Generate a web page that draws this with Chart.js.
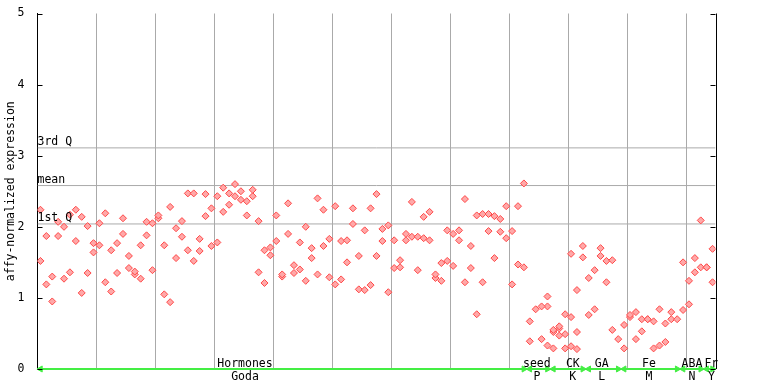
<!DOCTYPE html>
<html><head><meta charset="utf-8">
<script src="https://cdn.jsdelivr.net/npm/chart.js@4"></script>
<style>html,body{margin:0;padding:0;background:#fff}</style>
</head><body>
<canvas id="c" width="768" height="384" style="display:block;width:768px;height:384px"></canvas>
<script>
// ---- data ----
const rep1 = [2.24,1.87,1.30,2.07,2.00,2.17,2.24,2.14,2.01,1.77,2.05,2.19,1.67,1.77,2.12,1.59,1.37,1.74,2.07,2.05,
  2.16,1.74,2.28,1.98,2.08,2.47,2.47,1.83,2.46,2.26,2.43,2.55,2.47,2.60,2.50,2.36,2.52,2.08,1.67,1.71,
  2.16,1.33,2.33,1.46,1.78,2.00,1.70,2.40,2.24,1.83,2.29,1.80,1.81,2.26,1.59,1.95,2.26,2.46,1.97,2.02,
  1.81,1.53,1.90,2.35,1.86,2.14,2.21,1.33,1.49,1.95,1.90,1.95,2.39,1.73,2.16,2.18,2.18,2.15,2.11,2.29,
  1.94,2.29,2.61,0.67,0.84,0.88,1.02,0.55,0.60,0.77,1.62,1.11,1.73,1.28,1.39,1.70,1.52,1.53,0.42,0.62,
  0.76,0.80,0.70,0.70,0.67,0.84,0.64,0.80,0.70,1.50,1.24,1.56,2.09,1.43,1.69];
const rep2 = [1.52,1.19,0.95,1.87,1.27,1.36,1.80,1.07,1.35,1.64,1.74,1.22,1.09,1.35,1.90,1.42,1.33,1.27,1.88,1.39,
  2.12,1.05,0.94,1.56,1.86,1.67,1.52,1.66,2.15,1.73,1.78,2.21,2.31,2.43,2.38,2.16,2.43,1.36,1.21,1.60,
  1.80,1.30,1.90,1.35,1.40,1.24,1.56,1.33,1.73,1.29,1.19,1.26,1.50,2.04,1.12,1.11,1.18,1.59,1.80,1.08,
  1.42,1.43,1.81,1.86,1.39,1.84,1.81,1.28,1.24,1.52,1.45,1.81,1.22,1.42,0.77,1.22,1.94,1.56,1.93,1.84,
  1.19,1.47,1.43,0.39,null,0.42,0.88,0.52,0.57,0.49,0.73,0.52,1.57,0.76,0.84,1.59,1.22,0.55,null,0.29,
  0.73,0.42,0.53,0.70,0.29,0.33,0.38,0.70,null,0.83,0.91,1.36,1.43,1.43,1.22];
const rep3 = [];
rep3[86] = 0.33; rep3[87] = 0.29; rep3[88] = 0.47; rep3[89] = 0.29; rep3[90] = 0.32; rep3[91] = 0.28;

const statNames  = ['3rd Q', 'mean', '1st Q'];
const statValues = [3.11, 2.58, 2.04];

const groupTop    = ['Hormones', 'seed', 'CK', 'GA', 'Fe', 'ABA', 'Fr'];
const groupBottom = ['Goda', 'P', 'K', 'L', 'M', 'N', 'Y'];
const groupStart  = [0, 83, 87, 93, 99, 109, 113];
const groupEnd    = [82, 86, 92, 98, 108, 112, 114];
const groupLabelAt = [34.7, 84.2, 90.3, 95.2, 103.2, 110.5, 113.8];

const yTickValues = [0, 1, 2, 3, 4, 5];
const yTitle = 'affy-normalized expression';

// ---- build ----
const FONT = '11.5px "DejaVu Sans Mono", "Liberation Mono", monospace';
const RED = '#ff4848';
const GREEN = '#44ee44';
const nCols = rep1.length;

function pts(arr){ const out=[]; for(let i=0;i<nCols;i++){ if(arr[i]!=null) out.push({x:i,y:arr[i]}); } return out; }

const datasets = [];
[rep1, rep2, rep3].forEach(r => datasets.push({
  type:'scatter', data: pts(r), order: 0,
  pointStyle:'rectRot', pointRadius:3.5, borderWidth:1,
  borderColor: RED, backgroundColor:'#ffa8a8'
}));
statValues.forEach(v => datasets.push({
  type:'line', data:[{x:-0.5,y:v},{x:nCols-0.5,y:v}], order: 5,
  borderColor:'#aaaaaa', borderWidth:1, pointRadius:0
}));
groupStart.forEach((s,i) => datasets.push({
  type:'line', data:[{x:s,y:0},{x:groupEnd[i],y:0}], order: 1, clip:false,
  borderColor: GREEN, borderWidth:2, pointRadius:3.5, pointStyle:'triangle',
  pointBackgroundColor: GREEN, pointBorderColor: GREEN, pointBorderWidth:1,
  pointRotation: c => c.dataIndex === 0 ? -90 : 90
}));

const overlay = {
  id:'overlay',
  afterDatasetsDraw(chart){
    const {ctx, chartArea:a, scales:{x,y}} = chart;
    ctx.save();
    ctx.strokeStyle = '#000'; ctx.lineWidth = 1;
    ctx.beginPath();
    ctx.moveTo(Math.round(a.right)+0.5, a.top); ctx.lineTo(Math.round(a.right)+0.5, a.bottom);
    yTickValues.forEach(v => {
      const py = Math.round(y.getPixelForValue(v)) + 0.5;
      ctx.moveTo(a.left, py); ctx.lineTo(a.left + 5, py);
      ctx.moveTo(a.right, py); ctx.lineTo(a.right - 5, py);
    });
    ctx.stroke();
    ctx.font = FONT; ctx.fillStyle = '#000';
    ctx.textAlign = 'left'; ctx.textBaseline = 'alphabetic';
    statNames.forEach((n,i) => ctx.fillText(n, a.left, y.getPixelForValue(statValues[i]) - 2.5));
    ctx.textAlign = 'center';
    groupTop.forEach((n,i) => {
      const px = x.getPixelForValue(groupLabelAt[i]);
      ctx.fillText(n, px, a.bottom - 2.5);
      ctx.fillText(groupBottom[i], px, a.bottom + 11);
    });
    ctx.translate(11.5, (a.top + a.bottom) / 2);
    ctx.rotate(-Math.PI / 2);
    ctx.textBaseline = 'middle';
    ctx.fillText(yTitle, 0, 0);
    ctx.restore();
  }
};

new Chart(document.getElementById('c'), {
  data: { datasets },
  options: {
    responsive:false, animation:false, devicePixelRatio:1,
    layout:{ padding:{ top:13.5, right:52.5, left:0, bottom:0 } },
    plugins:{ legend:{display:false}, tooltip:{enabled:false} },
    scales:{
      x:{ type:'linear', min:-0.5, max:nCols-0.5,
        afterBuildTicks(s){ const t=[]; for(let v=9.5; v<nCols-1; v+=10) t.push({value:v}); s.ticks=t; },
        afterFit(s){ s.height = 15; },
        ticks:{ display:false },
        grid:{ color:'#aaaaaa', lineWidth:1, drawTicks:false },
        border:{ display:true, color:'#000', width:1 }
      },
      y:{ type:'linear', min:0, max:5,
        afterBuildTicks(s){ s.ticks = yTickValues.map(v => ({value:v})); },
        afterFit(s){ s.width = 37.5; },
        ticks:{ color:'#000', padding:5, font:{ family:'"DejaVu Sans Mono", monospace', size:11.5 } },
        grid:{ display:false },
        border:{ display:true, color:'#000', width:1 }
      }
    }
  },
  plugins:[overlay]
});
</script>
</body></html>
